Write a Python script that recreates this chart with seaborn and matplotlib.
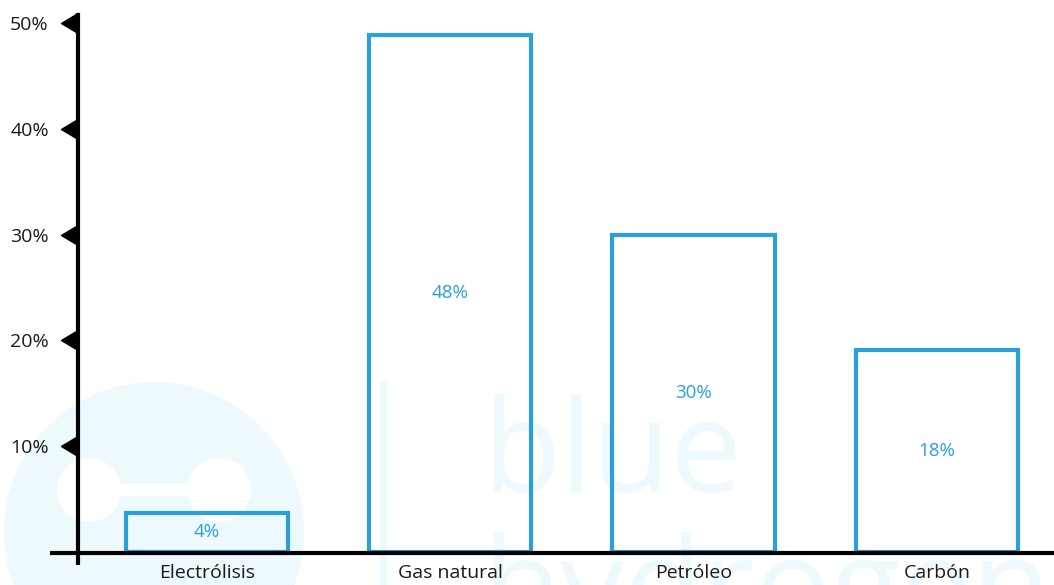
import matplotlib
matplotlib.use("Agg")
import matplotlib.pyplot as plt
import seaborn as sns
from matplotlib.path import Path
from matplotlib.patches import Circle, Rectangle
from matplotlib.lines import Line2D
import matplotlib.transforms as mtransforms

# ---------------- data ----------------
categories = ["Electrólisis", "Gas natural", "Petróleo", "Carbón"]
shares = [3.7, 48.9, 30.0, 19.1]
share_labels = ["4%", "48%", "30%", "18%"]
y_ticks = [10, 20, 30, 40, 50]
y_tick_labels = ["10%", "20%", "30%", "40%", "50%"]
watermark_lines = ["blue", "hydrogen"]

# ---------------- style ----------------
sns.set_theme(style="white")
plt.rcParams['font.family'] = ['Open Sans', 'DejaVu Sans']

BLUE = "#2a9fd9"
WM = "#eef9fe"

W, H = 1054, 585
fig = plt.figure(figsize=(W / 100, H / 100), dpi=100)
fig.patch.set_facecolor("white")

# background (watermark) axes in pixel coordinates
bg = fig.add_axes([0, 0, 1, 1], zorder=0)
bg.set_xlim(0, W)
bg.set_ylim(H, 0)
bg.axis("off")
bg.add_patch(Circle((154, 532), 150, color=WM, lw=0))
bg.add_patch(Circle((89, 490), 32, color="white", lw=0))
bg.add_patch(Circle((219, 490), 32, color="white", lw=0))
bg.add_patch(Rectangle((110, 484), 90, 12, color="white", lw=0))
bg.add_patch(Rectangle((380, 382), 7, 220, color=WM, lw=0))
bg.text(482, 492, watermark_lines[0], fontsize=92, color=WM, va="baseline", ha="left")
bg.text(482, 630, watermark_lines[1], fontsize=92, color=WM, va="baseline", ha="left")

# main axes
ax_left, ax_right = 78, 1054
y0_px, ytop_px = 552, 13
px_per_unit = 10.58
ax = fig.add_axes([ax_left / W, (H - y0_px) / H, (ax_right - ax_left) / W, (y0_px - ytop_px) / H], zorder=1)
ax.patch.set_alpha(0)

sns.barplot(x=categories, y=shares, fill=False, color=BLUE, linewidth=3, width=0.667, ax=ax)
for p in ax.patches:
    p.set_edgecolor(BLUE)
    p.set_facecolor("none")
    p.set_linewidth(3)

ax.bar_label(ax.containers[0], labels=share_labels, label_type="center",
             color=BLUE, fontsize=13.5)

ax.set_xlim(-0.530, 3.481)
ax.set_ylim(0, (y0_px - ytop_px) / px_per_unit)
for s in ax.spines.values():
    s.set_visible(False)

ax.set_yticks(y_ticks)
ax.set_yticklabels(y_tick_labels)
ax.tick_params(axis="y", length=0, pad=21, labelsize=14, labelcolor="#1a1a1a")
ax.tick_params(axis="x", length=0, pad=9, labelsize=14, labelcolor="#1a1a1a")
ax.set_xlabel("")
ax.set_ylabel("")
ax.grid(False)

# axis lines
fig.add_artist(Line2D([78 / W, 78 / W], [1 - 13 / H, 1 - 565 / H], transform=fig.transFigure,
                      color="black", lw=3, zorder=5, solid_capstyle="butt"))
fig.add_artist(Line2D([50 / W, 1.0], [1 - 553 / H, 1 - 553 / H], transform=fig.transFigure,
                      color="black", lw=3, zorder=5, solid_capstyle="butt"))

# triangular tick markers pointing left
tri = Path([(-1, 0), (0, 0.6), (0, -0.6), (-1, 0)],
           [Path.MOVETO, Path.LINETO, Path.LINETO, Path.CLOSEPOLY])
trans = mtransforms.blended_transform_factory(ax.transAxes, ax.transData)
ax.plot([0] * len(y_ticks), y_ticks, linestyle="none", marker=tri, markersize=24.5,
        color="black", transform=trans, clip_on=False, zorder=6)

fig.savefig("out.png", dpi=100)
